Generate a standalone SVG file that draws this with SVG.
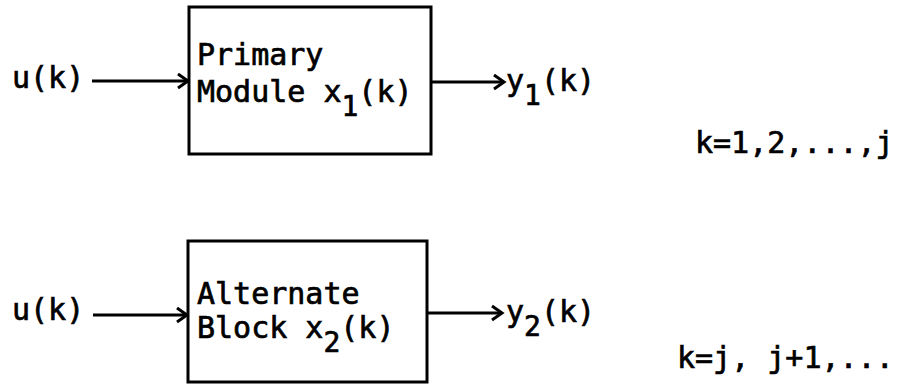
<svg xmlns="http://www.w3.org/2000/svg" width="897" height="387" viewBox="0 0 897 387">
<style>
text{font-family:"DejaVu Sans Mono","Liberation Mono",monospace;font-size:30px;fill:#000;stroke:#000;stroke-width:0.7px}
.sub{font-size:28px}
.box{fill:#fff;stroke:#000;stroke-width:3}
.conn{stroke:#000;stroke-width:3;fill:none}
</style>
<defs>
<marker id="ah" markerUnits="userSpaceOnUse" markerWidth="16" markerHeight="18" refX="12" refY="9" orient="auto">
<polyline points="2,2 12,9 2,16" fill="none" stroke="#000" stroke-width="3"/>
</marker>
</defs>
<g id="connectors">
<line class="conn" x1="92" y1="81" x2="188" y2="81" marker-end="url(#ah)"/>
<line class="conn" x1="431" y1="82" x2="504" y2="82" marker-end="url(#ah)"/>
<line class="conn" x1="93" y1="315" x2="187" y2="315" marker-end="url(#ah)"/>
<line class="conn" x1="427" y1="313" x2="502" y2="313" marker-end="url(#ah)"/>
</g>
<g id="input1"><text x="12" y="88">u(k)</text></g>
<g id="primary">
<rect class="box" x="189" y="7" width="242" height="147"/>
<text x="197" y="65">Primary</text>
<text x="197" y="102">Module x<tspan class="sub" dy="14">1</tspan><tspan dy="-14">(k)</tspan></text>
</g>
<g id="output1"><text x="506" y="91">y<tspan class="sub" dy="14">1</tspan><tspan dy="-14">(k)</tspan></text></g>
<g id="range1"><text x="695" y="153">k=1,2,...,j</text></g>
<g id="input2"><text x="12" y="320">u(k)</text></g>
<g id="alternate">
<rect class="box" x="188" y="241" width="239" height="141"/>
<text x="197" y="304">Alternate</text>
<text x="197" y="338">Block x<tspan class="sub" dy="14">2</tspan><tspan dy="-14">(k)</tspan></text>
</g>
<g id="output2"><text x="506" y="322">y<tspan class="sub" dy="14">2</tspan><tspan dy="-14">(k)</tspan></text></g>
<g id="range2"><text x="677" y="368">k=j, j+1,...</text></g>
</svg>
